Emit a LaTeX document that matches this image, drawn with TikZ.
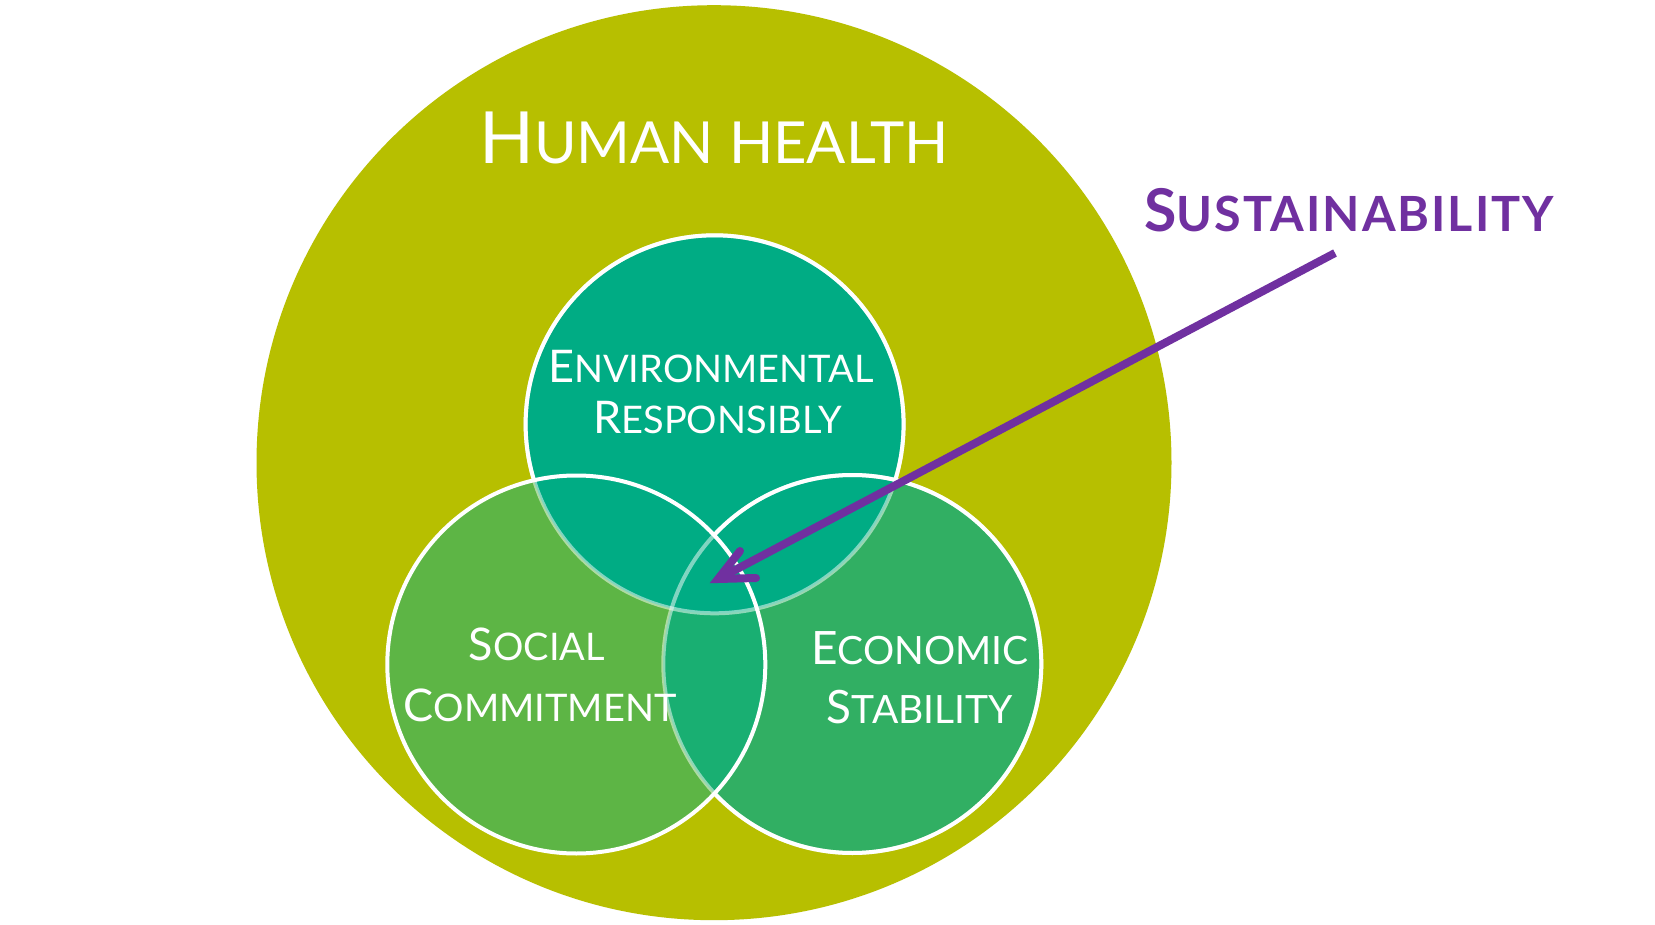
\documentclass[tikz,border=0pt]{standalone}
\usepackage{fontspec}
\setmainfont{Lato}
\usetikzlibrary{calc}
\definecolor{health}{HTML}{B7BF00}
\definecolor{envc}{HTML}{00AC84}
\definecolor{socc}{HTML}{5DB545}
\definecolor{ecoc}{HTML}{31AF63}
\definecolor{soeco}{HTML}{19AF72}
\definecolor{sustc}{HTML}{7030A0}
\newcommand{\SC}[4]{{\fontsize{#1pt}{#1pt}\selectfont #3}{\fontsize{#2pt}{#2pt}\selectfont #4}}
\tikzset{
  lbl/.style={text=white, anchor=base, inner sep=0pt},
  rim/.style={draw=white, line width=4pt},
  fadedrim/.style={draw=white, draw opacity=0.5, line width=4pt},
  arrowline/.style={draw=sustc, line width=8pt},
}
\begin{document}
\begin{tikzpicture}[x=1pt,y=-1pt]
\fill[white] (0,0) rectangle (1655,925);
\useasboundingbox (0,0) rectangle (1655,925);
\coordinate (cH) at (714,462.7);
\coordinate (cT) at (714.6,424.3);
\coordinate (cL) at (576.3,664.5);
\coordinate (cR) at (852.3,664);
% big circle
\fill[health] (cH) circle (457.5pt);
% lower circles
\fill[socc] (cL) circle (189pt);
\fill[ecoc] (cR) circle (189pt);
\begin{scope}
  \clip (cL) circle (189pt);
  \fill[soeco] (cR) circle (189pt);
\end{scope}
% top circle
\fill[envc] (cT) circle (189pt);
% faded rims
\path[fadedrim] (cT) circle (189pt);
\path[fadedrim] (cR) circle (189pt);
% white rims
\begin{scope}[even odd rule]
  \clip (-10,-10) rectangle (1700,950) (cL) circle (189pt);
  \begin{scope}[even odd rule]
    \clip (-10,-10) rectangle (1700,950) (cR) circle (189pt);
    \path[rim] (cT) circle (189pt);
  \end{scope}
  \path[rim] (cR) circle (189pt);
\end{scope}
\path[rim] (cL) circle (189pt);
% texts
\node[lbl] (hh) at (714,164) {\SC{72}{58}{H}{UMAN HEALTH}};
\node[lbl] (env1) at (711,382) {\SC{45}{38}{E}{NVIRONMENTAL}};
\node[lbl] (env2) at (717.5,433) {\SC{45}{38}{R}{ESPONSIBLY}};
\node[lbl] (soc1) at (537,660) {\SC{45}{38}{S}{OCIAL}};
\node[lbl] (soc2) at (540,721) {\SC{45}{38}{C}{OMMITMENT}};
\node[lbl] (eco1) at (920,664) {\SC{46}{39}{E}{CONOMIC}};
\node[lbl] (eco2) at (920,723) {\SC{46}{39}{S}{TABILITY}};
\node[lbl, text=sustc, font=\bfseries\addfontfeature{LetterSpace=4}] (sust) at (1349,231.7) {\SC{59}{48.5}{S}{USTAINABILITY}};
% arrow
\coordinate (as) at (1335,253);
\coordinate (at) at (718,579);
\coordinate (b1) at ($(at)+(22,-28)$);
\coordinate (b2) at ($(at)+(38,-1)$);
\draw[arrowline] (as) -- ($(at)+(8,-4.2)$);
\draw[arrowline, line cap=round, line join=miter] (b1) -- (at) -- (b2);
\end{tikzpicture}
\end{document}
